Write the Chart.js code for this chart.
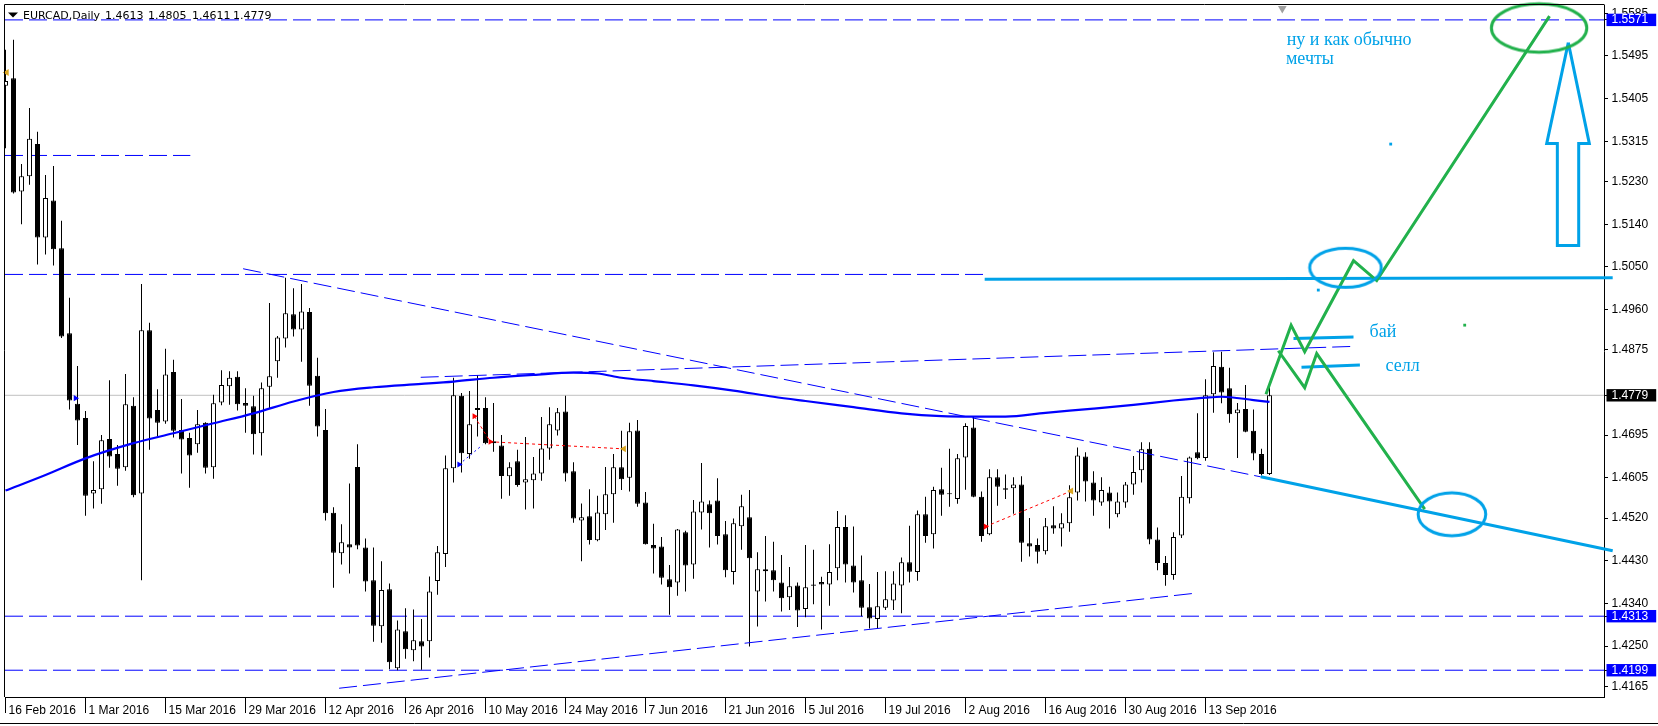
<!DOCTYPE html>
<html lang="ru">
<head>
<meta charset="utf-8">
<title>EURCAD Daily</title>
<script src="https://cdn.jsdelivr.net/npm/chart.js@4.4.1/dist/chart.umd.min.js"></script>
<style>
  html, body { margin: 0; padding: 0; background: #ffffff; overflow: hidden; }
  canvas { display: block; }
</style>
</head>
<body>
<canvas id="chart" width="1658" height="726"></canvas>
<script>
// EURCAD daily candles, 16 Feb 2016 .. 23 Sep 2016, one value per trading day
const opens = [
  1.5432,1.5448,1.5209,1.5241,1.5309,1.5112,1.5190,1.5089,1.4910,1.4761,
  1.4731,1.4572,1.4581,1.4687,1.4655,1.4627,1.4757,1.4572,1.4916,1.4748,
  1.4724,1.4828,1.4706,1.4689,1.4676,1.4721,1.4627,1.4764,1.4798,1.4818,
  1.4763,1.4756,1.4699,1.4797,1.4851,1.4899,1.4950,1.4918,1.4955,1.4820,
  1.4706,1.4531,1.4446,1.4465,1.4628,1.4458,1.4389,1.4292,1.4370,1.4203,
  1.4281,1.4241,1.4260,1.4260,1.4387,1.4444,1.4625,1.4778,1.4655,1.4752,
  1.4752,1.4678,1.4673,1.4608,1.4640,1.4595,1.4600,1.4614,1.4667,1.4705,
  1.4745,1.4619,1.4515,1.4524,1.4473,1.4528,1.4570,1.4627,1.4605,1.4705,
  1.4553,1.4463,1.4460,1.4391,1.4384,1.4490,1.4422,1.4532,1.4549,1.4557,
  1.4486,1.4406,1.4503,1.4522,1.4365,1.4408,1.4410,1.4384,1.4353,1.4378,
  1.4328,1.4377,1.4385,1.4380,1.4414,1.4501,1.4420,1.4389,1.4332,1.4307,
  1.4331,1.4346,1.4378,1.4427,1.4406,1.4528,1.4486,1.4581,1.4570,1.4560,
  1.4648,1.4711,1.4565,1.4486,1.4606,1.4583,1.4583,1.4591,1.4467,1.4463,
  1.4450,1.4505,1.4498,1.4509,1.4574,1.4650,1.4595,1.4553,1.4574,1.4528,
  1.4553,1.4591,1.4621,1.4666,1.4475,1.4425,1.4400,1.4483,1.4562,1.4659,
  1.4647,1.4781,1.4839,1.4794,1.4741,1.4750,1.4704,1.4655,1.4613
];
const highs = [
  1.5508,1.5529,1.5267,1.5385,1.5335,1.5244,1.5263,1.5147,1.4985,1.4841,
  1.4746,1.4640,1.4695,1.4811,1.4674,1.4824,1.4775,1.5014,1.4932,1.4792,
  1.4877,1.4854,1.4771,1.4700,1.4748,1.4722,1.4780,1.4832,1.4830,1.4830,
  1.4794,1.4778,1.4806,1.4974,1.4904,1.5027,1.5005,1.5014,1.4963,1.4858,
  1.4750,1.4543,1.4507,1.4593,1.4676,1.4477,1.4458,1.4429,1.4382,1.4304,
  1.4330,1.4327,1.4307,1.4397,1.4461,1.4652,1.4816,1.4784,1.4788,1.4822,
  1.4775,1.4763,1.4695,1.4638,1.4664,1.4691,1.4649,1.4733,1.4754,1.4752,
  1.4778,1.4638,1.4551,1.4581,1.4567,1.4628,1.4655,1.4704,1.4721,1.4727,
  1.4575,1.4508,1.4480,1.4421,1.4497,1.4493,1.4558,1.4636,1.4557,1.4604,
  1.4514,1.4519,1.4569,1.4579,1.4448,1.4482,1.4470,1.4442,1.4417,1.4384,
  1.4463,1.4453,1.4396,1.4465,1.4535,1.4526,1.4502,1.4441,1.4381,1.4406,
  1.4408,1.4408,1.4437,1.4504,1.4536,1.4565,1.4586,1.4626,1.4666,1.4655,
  1.4720,1.4735,1.4576,1.4623,1.4623,1.4612,1.4606,1.4608,1.4520,1.4477,
  1.4520,1.4545,1.4530,1.4589,1.4669,1.4659,1.4619,1.4606,1.4586,1.4574,
  1.4596,1.4651,1.4680,1.4680,1.4500,1.4440,1.4490,1.4609,1.4650,1.4741,
  1.4813,1.4870,1.4871,1.4837,1.4763,1.4801,1.4749,1.4666,1.4805
];
const lows = [
  1.5300,1.5205,1.5140,1.5223,1.5055,1.5076,1.5053,1.4900,1.4749,1.4674,
  1.4525,1.4540,1.4550,1.4626,1.4588,1.4620,1.4564,1.4389,1.4664,1.4692,
  1.4719,1.4690,1.4614,1.4584,1.4658,1.4614,1.4603,1.4758,1.4759,1.4747,
  1.4700,1.4654,1.4652,1.4752,1.4816,1.4880,1.4903,1.4850,1.4757,1.4692,
  1.4515,1.4373,1.4422,1.4403,1.4454,1.4365,1.4259,1.4257,1.4201,1.4199,
  1.4223,1.4218,1.4200,1.4226,1.4358,1.4417,1.4595,1.4616,1.4645,1.4692,
  1.4676,1.4660,1.4561,1.4567,1.4586,1.4538,1.4540,1.4599,1.4643,1.4694,
  1.4597,1.4510,1.4429,1.4464,1.4471,1.4495,1.4510,1.4579,1.4576,1.4544,
  1.4464,1.4403,1.4380,1.4316,1.4356,1.4365,1.4392,1.4496,1.4458,1.4464,
  1.4395,1.4380,1.4453,1.4249,1.4291,1.4344,1.4365,1.4323,1.4326,1.4290,
  1.4311,1.4338,1.4285,1.4335,1.4389,1.4384,1.4363,1.4313,1.4287,1.4287,
  1.4326,1.4326,1.4319,1.4384,1.4388,1.4468,1.4456,1.4525,1.4544,1.4550,
  1.4580,1.4564,1.4470,1.4484,1.4546,1.4560,1.4529,1.4428,1.4439,1.4424,
  1.4443,1.4487,1.4460,1.4491,1.4557,1.4555,1.4525,1.4546,1.4498,1.4522,
  1.4542,1.4569,1.4595,1.4465,1.4410,1.4377,1.4390,1.4478,1.4551,1.4644,
  1.4641,1.4742,1.4762,1.4721,1.4647,1.4701,1.4642,1.4610,1.4611
];
const closes = [
  1.5442,1.5207,1.5241,1.5320,1.5112,1.5195,1.5087,1.4903,1.4768,1.4726,
  1.4567,1.4579,1.4684,1.4650,1.4624,1.4760,1.4568,1.4916,1.4730,1.4721,
  1.4823,1.4704,1.4686,1.4652,1.4718,1.4626,1.4762,1.4801,1.4816,1.4760,
  1.4757,1.4697,1.4794,1.4819,1.4901,1.4952,1.4918,1.4956,1.4799,1.4713,
  1.4530,1.4447,1.4469,1.4458,1.4462,1.4386,1.4293,1.4368,1.4216,1.4285,
  1.4243,1.4262,1.4249,1.4365,1.4448,1.4625,1.4779,1.4657,1.4718,1.4748,
  1.4678,1.4682,1.4609,1.4627,1.4590,1.4602,1.4614,1.4667,1.4718,1.4743,
  1.4614,1.4519,1.4522,1.4474,1.4532,1.4570,1.4627,1.4602,1.4703,1.4550,
  1.4465,1.4456,1.4394,1.4374,1.4496,1.4420,1.4534,1.4555,1.4530,1.4482,
  1.4410,1.4509,1.4545,1.4435,1.4412,1.4412,1.4389,1.4351,1.4376,1.4325,
  1.4374,1.4380,1.4380,1.4406,1.4501,1.4422,1.4384,1.4331,1.4308,1.4334,
  1.4349,1.4382,1.4427,1.4407,1.4528,1.4482,1.4579,1.4569,1.4570,1.4646,
  1.4714,1.4565,1.4482,1.4606,1.4586,1.4580,1.4591,1.4468,1.4460,1.4449,
  1.4503,1.4498,1.4509,1.4564,1.4652,1.4597,1.4557,1.4579,1.4555,1.4555,
  1.4591,1.4617,1.4665,1.4475,1.4425,1.4400,1.4480,1.4565,1.4648,1.4646,
  1.4779,1.4841,1.4785,1.4739,1.4749,1.4702,1.4656,1.4613,1.4779
];

// moving average, sampled along the drawn curve
const maIdx = [0, 5, 10, 16, 21, 26, 31, 36, 41, 46, 52, 56, 61, 66, 71, 74, 77, 81, 86, 91,
  96, 100, 106, 112, 117, 121, 125, 130, 136, 141, 146, 150, 152, 156, 158];
const maVal = [1.4578, 1.4611, 1.4646, 1.4678, 1.4699, 1.4720, 1.4741, 1.4766, 1.4786, 1.4796,
  1.4803, 1.4808, 1.4816, 1.4822, 1.4827, 1.4825, 1.4816, 1.4809, 1.4800, 1.4789,
  1.4776, 1.4767, 1.4754, 1.4741, 1.4735, 1.4734, 1.4734, 1.4742, 1.4751, 1.4759,
  1.4768, 1.4774, 1.4776, 1.4769, 1.4765];

// axis labels
const dateTickIdx = [0, 10, 20, 30, 40, 50, 60, 70, 80, 90, 100, 110, 120, 130, 140, 150];
const dateLabels = ["16 Feb 2016", "1 Mar 2016", "15 Mar 2016", "29 Mar 2016", "12 Apr 2016",
  "26 Apr 2016", "10 May 2016", "24 May 2016", "7 Jun 2016", "21 Jun 2016", "5 Jul 2016",
  "19 Jul 2016", "2 Aug 2016", "16 Aug 2016", "30 Aug 2016", "13 Sep 2016"];
const priceTicks = [1.5585, 1.5495, 1.5405, 1.5315, 1.5230, 1.5140, 1.5050, 1.4960, 1.4875,
  1.4695, 1.4605, 1.4520, 1.4430, 1.4340, 1.4250, 1.4165];
const markedPrices = [1.5571, 1.4779, 1.4313, 1.4199];
const titleParts = ["EURCAD,Daily", "1.4613", "1.4805", "1.4611", "1.4779"];

// objects drawn on the chart, as [bar index, price]
const resistLine = [[51.9, 1.4817], [168.1, 1.4882]];
const fallLine = [[29.7, 1.5046], [156.9, 1.4607]];
const fallLineExt = [[156.9, 1.4607], [200.9, 1.4451]];
const supportLine = [[41.7, 1.4161], [149.0, 1.4362]];
const level1505 = [[122.4, 1.5024], [200.9, 1.5027]];
const greenUp = [[157.56, 1.4781], [160.7, 1.4927], [162.4, 1.4871], [168.5, 1.5063], [171.4, 1.5021], [193.0, 1.5579]];
const greenDown = [[159.1, 1.4873], [162.4, 1.4795], [163.9, 1.4867], [177.4, 1.4539]];
const arrowOutline = [[195.35, 1.5523], [197.98, 1.5310], [196.65, 1.5310], [196.65, 1.5095],
  [193.98, 1.5095], [193.98, 1.5310], [192.65, 1.5310], [195.35, 1.5523]];
const buyMark = [[161.0, 1.4899], [168.5, 1.4902]];
const sellMark = [[162.0, 1.4838], [169.3, 1.4843]];
const tradeRedA = [[58.6, 1.4735], [60.6, 1.4681], [77.3, 1.4666]];
const tradeRedB = [[122.5, 1.4502], [133.2, 1.4577]];
const tradeBlue = [[56.7, 1.4633], [59.6, 1.4674]];
const notes = [
  { text: "ну и как обычно", x: 160.15, y: 1.5519 },
  { text: "мечты", x: 160.06, y: 1.5479 },
  { text: "бай", x: 170.5, y: 1.4901 },
  { text: "селл", x: 172.5, y: 1.4830 }
];

const X_MIN = -0.0625, X_MAX = 199.8125;
const Y_MIN = 1.414252, Y_MAX = 1.560243;
const BLUE = "#0000ff", CYAN = "#00a2e8", GREEN = "#22b14c";
const DASH = [18, 6];

const pts = arr => arr.map(([x, y]) => ({ x, y }));

function lineSet(points, color, width, dash, order, extra) {
  return Object.assign({
    type: "line", data: pts(points), borderColor: color, borderWidth: width,
    borderDash: dash || [], pointRadius: 0, fill: false, tension: 0, order
  }, extra || {});
}

function level(price, color, dash, order, to) {
  return lineSet([[X_MIN, price], [to ?? X_MAX, price]], color, 1, dash, order);
}

function markSet(points, color, style, radius, rotation, order) {
  return {
    type: "line", data: pts(points), showLine: false, pointStyle: style,
    pointRadius: radius, pointRotation: rotation || 0,
    pointBackgroundColor: color, pointBorderColor: color, pointBorderWidth: 0,
    order, clip: false
  };
}

function ellipseStyle(rx, ry, color) {
  const c = document.createElement("canvas");
  c.width = Math.ceil(2 * rx + 6);
  c.height = Math.ceil(2 * ry + 6);
  const g = c.getContext("2d");
  g.strokeStyle = color;
  g.lineWidth = 3;
  g.beginPath();
  g.ellipse(c.width / 2, c.height / 2, rx, ry, 0, 0, Math.PI * 2);
  g.stroke();
  return c;
}

const bodyData = opens.map((o, i) => ({ x: i, y: [o, closes[i]] }));
const wickData = highs.map((h, i) => ({ x: i, y: [lows[i], h] }));
const bodyFill = opens.map((o, i) => (closes[i] >= o ? "#ffffff" : "#000000"));

const chartChrome = {
  id: "chartChrome",
  afterDraw(chart) {
    const { ctx, chartArea: a } = chart;
    ctx.save();
    ctx.strokeStyle = "#000000";
    ctx.lineWidth = 1;
    ctx.beginPath();
    ctx.moveTo(a.left - 0.5, a.bottom);
    ctx.lineTo(a.left - 0.5, a.top - 0.5);
    ctx.lineTo(a.right + 0.5, a.top - 0.5);
    ctx.moveTo(0, 723.5);
    ctx.lineTo(chart.width, 723.5);
    ctx.stroke();

    // symbol line in the top-left corner
    ctx.fillStyle = "#000000";
    ctx.beginPath();
    ctx.moveTo(8, 12.5);
    ctx.lineTo(18, 12.5);
    ctx.lineTo(13, 17.5);
    ctx.closePath();
    ctx.fill();
    ctx.font = '11px "DejaVu Sans"';
    ctx.textBaseline = "alphabetic";
    const xs = [23, 105, 148, 192, 233];
    titleParts.forEach((t, k) => ctx.fillText(t, xs[k], 19));
    ctx.restore();
  }
};

const noteText = {
  id: "noteText",
  afterDatasetsDraw(chart) {
    const { ctx, scales: { x, y } } = chart;
    ctx.save();
    ctx.font = '18px "Liberation Serif"';
    ctx.fillStyle = CYAN;
    ctx.textBaseline = "alphabetic";
    notes.forEach(n => ctx.fillText(n.text, x.getPixelForValue(n.x), y.getPixelForValue(n.y)));
    ctx.restore();
  }
};

const isMarked = v => markedPrices.includes(v);

new Chart(document.getElementById("chart"), {
  type: "bar",
  data: {
    datasets: [
      // price levels
      level(1.4779, "#c0c0c0", [], 40),
      level(1.5571, BLUE, DASH, 35),
      level(1.4313, BLUE, DASH, 35),
      level(1.4199, BLUE, DASH, 35),
      level(1.5285, BLUE, DASH, 35, 23.1),
      level(1.5034, BLUE, DASH, 35, 122.4),

      // candles
      {
        type: "bar", data: wickData, backgroundColor: "#000000", borderWidth: 0,
        barThickness: 1, grouped: false, inflateAmount: 0, order: 30
      },
      {
        type: "bar", data: bodyData, backgroundColor: bodyFill, borderColor: "#000000",
        borderWidth: 1, borderSkipped: false, barThickness: 5, minBarLength: 1,
        grouped: false, inflateAmount: 0, order: 29
      },

      // moving average
      lineSet(maIdx.map((x, k) => [x, maVal[k]]), BLUE, 2.2, [], 20, { cubicInterpolationMode: "monotone" }),

      // thin trend lines
      lineSet(resistLine, BLUE, 1, DASH, 15),
      lineSet(fallLine, BLUE, 1, DASH, 15),
      lineSet(supportLine, BLUE, 1, DASH, 15),

      // trade history
      lineSet(tradeRedA, "#ff0000", 1, [3, 3], 12),
      lineSet(tradeRedB, "#ff0000", 1, [3, 3], 12),
      lineSet(tradeBlue, BLUE, 1, [2, 3], 12),
      markSet([[0.15, 1.5460], [77.3, 1.4666], [133.2, 1.4577]], "#daa520", "triangle", 4, 270, 11),
      markSet([[58.6, 1.4735], [60.6, 1.4681], [122.5, 1.4502]], "#ff0000", "triangle", 3.5, 90, 11),
      markSet([[8.75, 1.4773], [56.7, 1.4633]], BLUE, "triangle", 3.5, 90, 11),

      // hand drawn forecast
      lineSet(level1505, CYAN, 3, [], 5, { clip: false }),
      lineSet(fallLineExt, CYAN, 3, [], 5, { clip: false }),
      lineSet(buyMark, CYAN, 3, [], 5),
      lineSet(sellMark, CYAN, 3, [], 5),
      lineSet(arrowOutline, CYAN, 3, [], 4, { clip: false }),
      lineSet(greenUp, GREEN, 3, [], 3, { clip: false }),
      lineSet(greenDown, GREEN, 3, [], 3),
      markSet([[167.5, 1.5048]], CYAN, ellipseStyle(35.8, 19.6, CYAN), 1, 0, 2),
      markSet([[180.8, 1.4528]], CYAN, ellipseStyle(33.8, 21.4, CYAN), 1, 0, 2),
      markSet([[191.7, 1.5554]], GREEN, ellipseStyle(47.7, 24.3, GREEN), 1, 0, 2),
      markSet([[173.15, 1.5309], [164.1, 1.5001]], CYAN, "rect", 2, 0, 2),
      markSet([[182.4, 1.4927]], GREEN, "rect", 2, 0, 2),
      markSet([[159.6, 1.5595]], "#a0a0a0", "triangle", 5, 180, 2)
    ]
  },
  options: {
    responsive: false,
    animation: false,
    devicePixelRatio: 1,
    events: [],
    layout: { padding: { left: 5, top: 5, right: 0, bottom: 0 } },
    plugins: { legend: { display: false }, tooltip: { enabled: false } },
    scales: {
      x: {
        type: "linear", min: X_MIN, max: X_MAX, offset: false,
        afterBuildTicks: axis => { axis.ticks = dateTickIdx.map(v => ({ value: v })); },
        afterFit: axis => { axis.height = 29; axis.paddingLeft = 0; axis.paddingRight = 0; },
        ticks: {
          autoSkip: false, maxRotation: 0, minRotation: 0, align: "start",
          labelOffset: 3, padding: -10, color: "#000000",
          font: { family: "Liberation Sans", size: 12 },
          callback: (v, i) => dateLabels[i]
        },
        grid: { drawOnChartArea: false, offset: false, tickLength: 16, color: "#000000" },
        border: { color: "#000000" }
      },
      y: {
        type: "linear", position: "right", min: Y_MIN, max: Y_MAX,
        afterBuildTicks: axis => { axis.ticks = priceTicks.concat(markedPrices).map(v => ({ value: v })); },
        afterFit: axis => { axis.width = 54; axis.paddingTop = 0; axis.paddingBottom = 0; },
        ticks: {
          autoSkip: false, padding: 3.5,
          font: { family: "Liberation Sans", size: 12 },
          callback: v => v.toFixed(4),
          color: c => (c.tick && isMarked(c.tick.value) ? "#ffffff" : "#000000"),
          showLabelBackdrop: true,
          backdropColor: c => {
            if (!c.tick || !isMarked(c.tick.value)) return "rgba(0,0,0,0)";
            return c.tick.value === 1.4779 ? "#000000" : "#0000ff";
          },
          backdropPadding: { top: -1, bottom: -1, left: 5, right: 8 }
        },
        grid: { drawOnChartArea: false, tickLength: 4, color: "#000000" },
        border: { color: "#000000" }
      }
    }
  },
  plugins: [chartChrome, noteText]
});
</script>
</body>
</html>
